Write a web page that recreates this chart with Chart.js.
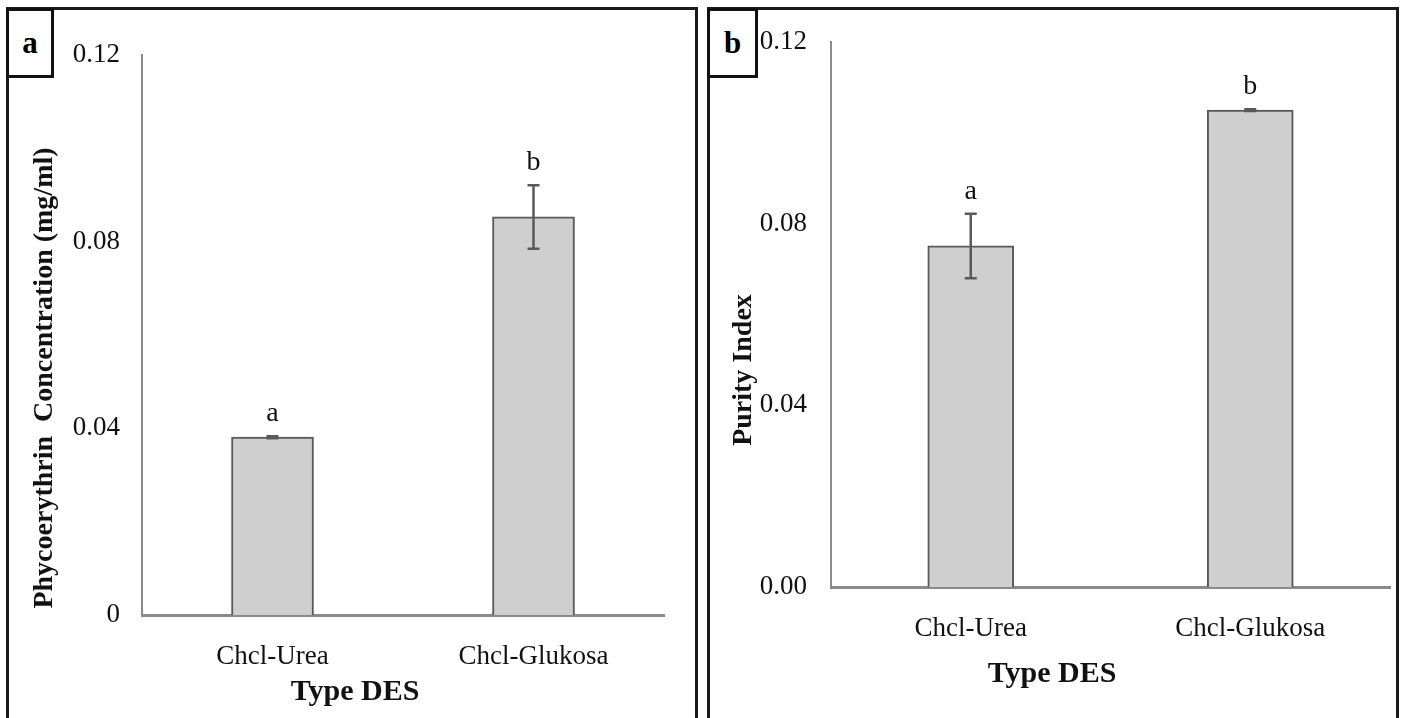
<!DOCTYPE html>
<html>
<head>
<meta charset="utf-8">
<script src="https://cdn.jsdelivr.net/npm/chart.js@4"></script>
<style>
  body { margin: 0; background: #fff; }
  #wrap { position: relative; width: 1403px; height: 718px; overflow: hidden; }
  .panel { position: absolute; top: 7px; height: 730px; border: 3px solid #1a1a1a; box-sizing: border-box; }
  .tag { position: absolute; top: 8px; height: 70px; border: 3px solid #111; box-sizing: border-box;
         font: bold 31px "Liberation Serif", serif; display: flex; align-items: center; justify-content: center; background: #fff; }
  canvas { position: absolute; top: 0; }
</style>
</head>
<body>
<div id="wrap">
  <div class="panel" style="left:6px; width:692px;"></div>
  <div class="panel" style="left:707px; width:692px;"></div>
  <canvas id="chartA" style="left:0px"></canvas>
  <canvas id="chartB" style="left:700px"></canvas>
  <div class="tag" style="left:6px; width:48px;">a</div>
  <div class="tag" style="left:707px; width:51px;">b</div>
</div>
<script>
const categories = ["Chcl-Urea", "Chcl-Glukosa"];

// panel a: phycoerythrin concentration
const concValues = [0.0381, 0.0853];
const concErrors = [0.0002, 0.0068];
const concLetters = ["a", "b"];
const concTicks = [0, 0.04, 0.08, 0.12];

// panel b: purity index
const purityValues = [0.0751, 0.105];
const purityErrors = [0.0071, 0.0002];
const purityLetters = ["a", "b"];
const purityTicks = [0, 0.04, 0.08, 0.12];

const serif = '"Liberation Serif", "Times New Roman", serif';

// error bars + significance letters
const errorBars = {
  id: "errorBars",
  afterDatasetsDraw(chart, args, opts) {
    const ctx = chart.ctx;
    const y = chart.scales.y;
    const meta = chart.getDatasetMeta(0);
    ctx.save();
    meta.data.forEach((bar, i) => {
      const v = opts.values[i], e = opts.errors[i];
      const top = y.getPixelForValue(v + e);
      const bot = y.getPixelForValue(v - e);
      ctx.strokeStyle = "#595959";
      ctx.lineWidth = 2.5;
      ctx.beginPath();
      ctx.moveTo(bar.x, top); ctx.lineTo(bar.x, bot);
      ctx.moveTo(bar.x - 6, top); ctx.lineTo(bar.x + 6, top);
      ctx.moveTo(bar.x - 6, bot); ctx.lineTo(bar.x + 6, bot);
      ctx.stroke();
      ctx.fillStyle = "#111";
      ctx.font = "28px " + serif;
      ctx.textAlign = "center";
      ctx.textBaseline = "alphabetic";
      ctx.fillText(opts.letters[i], bar.x, top - 15);
    });
    ctx.restore();
  }
};

// axis titles placed like the original figure
const axisTitles = {
  id: "axisTitles",
  afterDraw(chart, args, opts) {
    const ctx = chart.ctx;
    ctx.save();
    ctx.fillStyle = "#111";
    ctx.textAlign = "center";
    ctx.textBaseline = "middle";
    ctx.font = "bold 30px " + serif;
    ctx.fillText(opts.xText, opts.xPos[0], opts.xPos[1]);
    ctx.translate(opts.yPos[0], opts.yPos[1]);
    ctx.rotate(-Math.PI / 2);
    ctx.font = "bold 28px " + serif;
    ctx.fillText(opts.yText, 0, 0);
    ctx.restore();
  }
};

function makeChart(id, w, values, errors, letters, ticks, fmt, geo) {
  const el = document.getElementById(id);
  el.width = w; el.height = 718;
  el.style.width = w + "px"; el.style.height = "718px";
  return new Chart(el, {
    type: "bar",
    data: {
      labels: categories,
      datasets: [{
        data: values,
        backgroundColor: "#d0cfd0",
        borderColor: "#595959",
        borderWidth: 2,
        borderSkipped: "bottom",
        barThickness: geo.barW
      }]
    },
    options: {
      responsive: false,
      animation: false,
      layout: { padding: { left: 0, top: geo.top, right: geo.right, bottom: 0 } },
      plugins: {
        legend: { display: false },
        tooltip: { enabled: false },
        errorBars: { values, errors, letters },
        axisTitles: geo.titles
      },
      scales: {
        x: {
          grid: { display: false, drawTicks: false },
          border: { color: "#8a8a8a", width: 3 },
          ticks: { color: "#111", font: { family: serif, size: 27 }, padding: geo.xPad },
          afterFit(s) { s.height = geo.xH; }
        },
        y: {
          min: 0, max: 0.12,
          grid: { display: false, drawTicks: false },
          border: { color: "#8a8a8a", width: 2 },
          afterBuildTicks(s) { s.ticks = ticks.map(v => ({ value: v })); },
          ticks: { color: "#111", font: { family: serif, size: 27 }, padding: geo.yPad, callback: fmt },
          afterFit(s) { s.width = geo.yW; }
        }
      }
    },
    plugins: [errorBars, axisTitles]
  });
}

makeChart("chartA", 700, concValues, concErrors, concLetters, concTicks,
  v => v === 0 ? "0" : v.toFixed(2),
  { barW: 82, top: 55, right: 36, xH: 103, xPad: 26, yW: 142, yPad: 22,
    titles: { xText: "Type DES", xPos: [355, 692], yText: "Phycoerythrin  Concentration (mg/ml)", yPos: [45, 378] } });

makeChart("chartB", 703, purityValues, purityErrors, purityLetters, purityTicks,
  v => v.toFixed(2),
  { barW: 86, top: 42, right: 13, xH: 131, xPad: 26, yW: 131, yPad: 24,
    titles: { xText: "Type DES", xPos: [352, 674], yText: "Purity Index", yPos: [44, 370] } });
</script>
</body>
</html>
